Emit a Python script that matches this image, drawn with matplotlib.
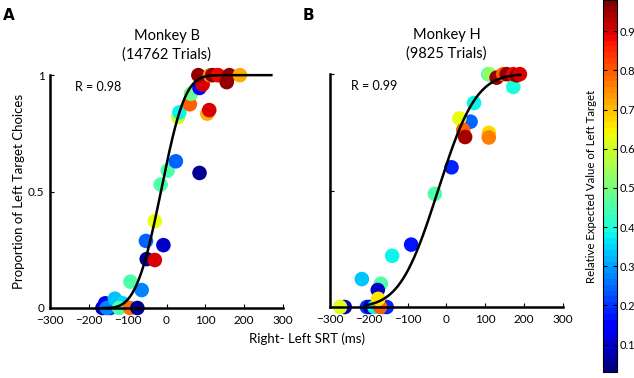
import math
import numpy as np
import matplotlib
matplotlib.use("Agg")
import matplotlib.pyplot as plt
from matplotlib.colors import Normalize
from matplotlib.cm import ScalarMappable

plt.rcParams['font.family'] = ['Lato', 'DejaVu Sans']

# Monkey B: SRT difference (ms), proportion left choices, relative expected value
b_x = [-165, -145, -158, -154, -120, -133, -113, -122, -94, -75, -64, -93,
       -51, -30, -53, -8, -30, -15, 3, 24, 85, 30, 33, 60, 63, 105, 110,
       85, 93, 82, 112, 129, 118, 133, 155, 162, 189]
b_y = [0.0, 0.0, 0.02, 0.0, 0.02, 0.04, 0.02, 0.0, 0.0, 0.0, 0.077, 0.113,
       0.21, 0.206, 0.288, 0.27, 0.373, 0.53, 0.59, 0.63, 0.58, 0.82, 0.84,
       0.875, 0.92, 0.835, 0.85, 0.945, 0.96, 1.0, 1.0, 1.0, 1.0, 1.0, 0.97,
       1.0, 1.0]
b_v = [0.1, 0.2, 0.12, 0.28, 0.08, 0.33, 0.35, 0.45, 0.78, 0.05, 0.28, 0.45,
       0.05, 0.9, 0.25, 0.1, 0.63, 0.45, 0.45, 0.25, 0.05, 0.6, 0.38, 0.8,
       0.48, 0.72, 0.9, 0.15, 0.9, 0.96, 0.75, 0.78, 0.96, 0.88, 0.96, 0.96,
       0.72]

# Monkey H
h_x = [-262, -274, -205, -197, -186, -162, -154, -171, -218, -169, -177,
       -176, -140, -91, -30, 13, 62, 33, 43, 48, 109, 109, 71, 172, 108, 110,
       129, 146, 155, 172, 181, 189]
h_y = [0.0, 0.0, 0.0, 0.0, 0.0, 0.0, 0.0, 0.0, 0.12, 0.1, 0.073, 0.035,
       0.22, 0.268, 0.486, 0.6, 0.796, 0.81, 0.76, 0.73, 0.748, 0.728, 0.876,
       0.945, 1.0, 1.0, 0.985, 1.0, 1.0, 1.0, 0.995, 1.0]
h_v = [0.08, 0.62, 0.2, 0.08, 0.38, 0.35, 0.18, 0.8, 0.33, 0.45, 0.1, 0.66,
       0.38, 0.17, 0.45, 0.18, 0.25, 0.63, 0.8, 0.95, 0.68, 0.77, 0.38, 0.4,
       0.38, 0.52, 0.96, 0.8, 0.96, 0.88, 0.96, 0.9]

# psychometric fits
b_fit = dict(x0=-168, lam=170, k=3.6, xmin=-165, xmax=270)   # Weibull
h_fit = dict(mu=-22, sigma=77, xmin=-205, xmax=190)          # cumulative Gaussian

cmap = plt.get_cmap('jet', 64)
norm = Normalize(vmin=0.03, vmax=0.98)


def weibull(x, p):
    d = np.clip(x - p['x0'], 0, None)
    return 1 - np.exp(-(d / p['lam']) ** p['k'])


def gauss_cdf(x, p):
    return np.array([0.5 * (1 + math.erf((v - p['mu']) / (p['sigma'] * math.sqrt(2)))) for v in x])


def style_axis(ax, show_ylabels):
    ax.set_xlim(-300, 300)
    ax.set_ylim(0, 1)
    for s in ['top', 'right']:
        ax.spines[s].set_visible(False)
    for s in ['left', 'bottom']:
        ax.spines[s].set_linewidth(1.8)
    ax.set_xticks([-300, -200, -100, 0, 100, 200, 300])
    ax.set_yticks([0, 0.5, 1])
    ax.set_yticklabels(['0', '0.5', '1'] if show_ylabels else [])
    ax.tick_params(direction='in', length=3, width=0.8, labelsize=8.5)
    ax.tick_params(axis='x', pad=5)
    ax.tick_params(axis='y', pad=4)


fig = plt.figure(figsize=(6.34, 3.78), dpi=100)
axA = fig.add_axes([0.0789, 0.1852, 0.3675, 0.616])
axB = fig.add_axes([0.5205, 0.1878, 0.3675, 0.616])
cax = fig.add_axes([0.951, 0.016, 0.022, 0.984])

for ax, xs, ys, vs, title, rtxt in [
        (axA, b_x, b_y, b_v, 'Monkey B\n(14762 Trials)', 'R = 0.98'),
        (axB, h_x, h_y, h_v, 'Monkey H\n(9825 Trials)', 'R = 0.99')]:
    ax.scatter(xs, ys, c=vs, cmap=cmap, norm=norm, s=110, edgecolors='none',
               clip_on=False, zorder=2)
    ax.set_title(title, fontsize=10.5, pad=12, linespacing=1.4)
    ax.text(-235 if ax is axA else -245, 0.95, rtxt, fontsize=9, va='center')

xa = np.linspace(b_fit['xmin'], b_fit['xmax'], 300)
axA.plot(xa, weibull(xa, b_fit), color='black', lw=1.8, zorder=3, clip_on=False)
xb = np.linspace(h_fit['xmin'], h_fit['xmax'], 300)
axB.plot(xb, gauss_cdf(xb, h_fit), color='black', lw=1.8, zorder=3, clip_on=False)

style_axis(axA, True)
style_axis(axB, False)
axA.set_ylabel('Proportion of Left Target Choices', fontsize=9.5, labelpad=2)
fig.text(0.485, 0.105, 'Right- Left SRT (ms)', fontsize=9.5, ha='center', va='center')

fig.text(0.004, 0.96, 'A', fontsize=11, fontweight='bold', family='DejaVu Sans', va='center')
fig.text(0.477, 0.96, 'B', fontsize=11, fontweight='bold', family='DejaVu Sans', va='center')

sm = ScalarMappable(norm=norm, cmap=cmap)
cb = fig.colorbar(sm, cax=cax)
cb.set_ticks([0.1, 0.2, 0.3, 0.4, 0.5, 0.6, 0.7, 0.8, 0.9])
cb.ax.tick_params(direction='in', length=3, width=0.8, labelsize=8, pad=2, left=True)
cb.outline.set_linewidth(0.8)
cb.set_label('Relative Expected Value of Left Target', fontsize=8.2, labelpad=4)
cb.ax.yaxis.set_label_position('left')

fig.savefig('out.png', dpi=100)
